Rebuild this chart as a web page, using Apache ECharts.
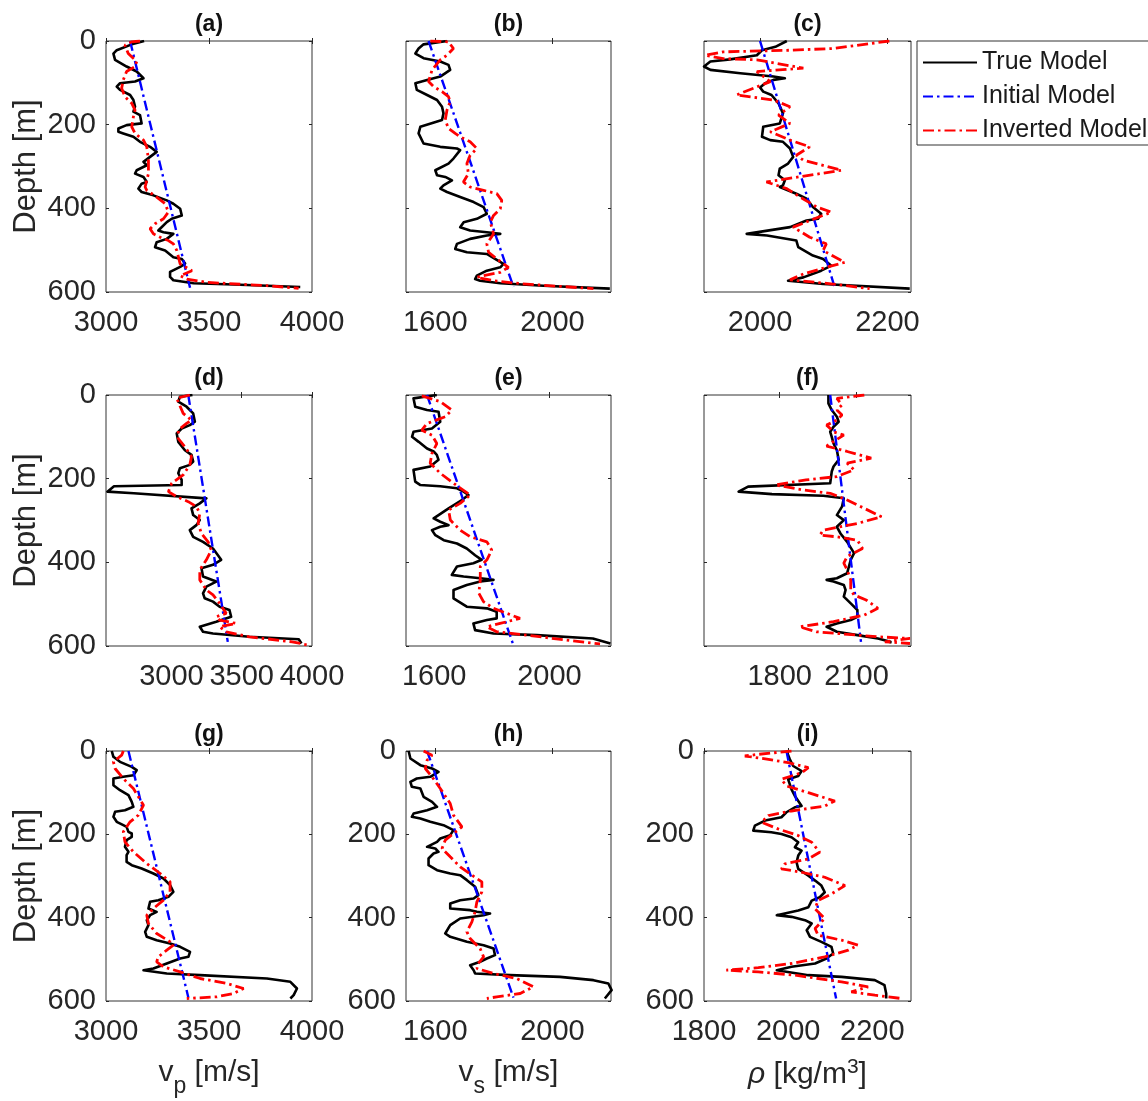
<!DOCTYPE html>
<html><head><meta charset="utf-8">
<script src="https://cdn.jsdelivr.net/npm/echarts@6/dist/echarts.min.js"></script>
<style>html,body{margin:0;padding:0;background:#fff}#c{width:1148px;height:1101px}</style>
</head><body><div id="c"></div>
<script>
const FONT = "'Liberation Sans', Arial, Helvetica, sans-serif";
const seriesNames = ['True Model', 'Initial Model', 'Inverted Model'];
const panelTitles = ['(a)', '(b)', '(c)', '(d)', '(e)', '(f)', '(g)', '(h)', '(i)'];
const depthTicks = [0, 200, 400, 600];
const depthRange = [0, 600];
const xRanges = [[3000, 4000], [1500, 2200], [1912, 2237], [2535, 4000], [1502, 2214], [1505, 2312], [3000, 4000], [1500, 2200], [1800, 2292]];
const xTicks = [[3000, 3500, 4000], [1600, 2000], [2000, 2200], [3000, 3500, 4000], [1600, 2000], [1800, 2100], [3000, 3500, 4000], [1600, 2000], [1800, 2000, 2200]];

// [value, depth]
const trueA = [[3185,0],[3125,8],[3052,22],[3036,30],[3044,45],[3100,61],[3149,73],[3182,89],[3141,97],[3068,101],[3052,109],[3068,117],[3117,129],[3133,141],[3141,157],[3133,169],[3165,177],[3173,197],[3100,201],[3060,209],[3060,217],[3084,221],[3133,229],[3165,241],[3214,253],[3246,265],[3214,277],[3182,289],[3198,297],[3149,309],[3141,317],[3182,325],[3198,337],[3173,341],[3157,353],[3173,361],[3230,369],[3295,381],[3327,389],[3360,401],[3368,417],[3319,425],[3295,433],[3254,453],[3279,457],[3327,461],[3295,473],[3246,481],[3238,493],[3287,501],[3327,517],[3368,521],[3384,532],[3360,540],[3311,552],[3311,564],[3327,572],[3425,579],[3619,582],[3943,588]];
const invA = [[3165,0],[3125,2],[3092,10],[3108,30],[3149,49],[3141,61],[3100,73],[3084,93],[3076,113],[3092,133],[3125,149],[3141,165],[3133,181],[3125,205],[3141,221],[3182,237],[3198,253],[3206,285],[3206,317],[3190,349],[3198,357],[3246,373],[3287,389],[3303,409],[3279,425],[3238,437],[3214,449],[3230,461],[3263,469],[3303,477],[3327,485],[3344,501],[3360,533],[3417,549],[3360,561],[3392,569],[3490,577],[3781,585],[3935,591]];
const initA = [[3117,0],[3408,590]];

const trueB = [[1640,0],[1560,8],[1543,18],[1532,30],[1560,41],[1617,49],[1645,57],[1651,69],[1617,85],[1572,93],[1532,101],[1537,117],[1572,129],[1606,141],[1623,157],[1628,173],[1623,189],[1549,205],[1543,221],[1560,245],[1617,253],[1674,257],[1685,261],[1662,281],[1645,293],[1600,309],[1606,321],[1634,325],[1657,333],[1628,345],[1617,353],[1640,361],[1685,373],[1731,385],[1765,397],[1776,413],[1742,425],[1697,433],[1685,445],[1719,453],[1776,457],[1822,461],[1776,465],[1719,473],[1674,485],[1668,497],[1708,505],[1776,509],[1804,521],[1833,533],[1822,541],[1776,549],[1742,561],[1736,569],[1753,573],[1822,579],[1969,585],[2196,592]];
const invB = [[1583,0],[1645,2],[1662,18],[1640,34],[1617,45],[1589,69],[1577,97],[1594,109],[1623,121],[1645,133],[1651,145],[1640,165],[1634,189],[1645,209],[1668,221],[1685,229],[1719,241],[1742,257],[1719,273],[1708,293],[1713,317],[1696,337],[1719,349],[1765,357],[1810,365],[1827,381],[1822,401],[1799,417],[1788,433],[1799,461],[1776,485],[1782,505],[1810,521],[1850,541],[1822,553],[1765,561],[1742,565],[1799,573],[1890,580],[2140,592]];
const initB = [[1577,0],[1867,588]];

const trueC = [[2042,0],[2024,14],[2003,22],[1995,34],[1953,44],[1922,49],[1912,61],[1922,69],[1969,77],[2021,85],[2039,89],[2021,93],[2008,101],[2000,111],[2005,121],[2018,129],[2029,149],[2036,173],[2031,197],[2005,205],[2003,229],[2016,237],[2036,241],[2047,257],[2052,277],[2044,293],[2031,305],[2029,321],[2039,333],[2036,345],[2031,349],[2057,365],[2073,377],[2083,397],[2096,413],[2091,425],[2073,429],[2047,445],[1979,461],[2011,465],[2057,477],[2060,493],[2083,513],[2099,521],[2112,537],[2096,549],[2068,565],[2044,573],[2099,581],[2235,592]];
const invC = [[2203,0],[2115,18],[2047,22],[1942,26],[1914,34],[1942,42],[1995,45],[2068,65],[1995,73],[2016,97],[1963,129],[2021,141],[2047,157],[2029,177],[2047,197],[2016,217],[2047,237],[2078,253],[2057,273],[2068,285],[2128,309],[2010,337],[2042,353],[2063,373],[2089,397],[2112,409],[2052,445],[2078,469],[2104,485],[2099,501],[2133,529],[2104,541],[2068,557],[2047,571],[2115,581],[2172,592]];
const initC = [[2000,0],[2117,588]];

const trueD = [[3150,0],[3061,4],[3049,16],[3108,28],[3155,44],[3167,64],[3131,72],[3073,80],[3038,92],[3049,112],[3096,132],[3143,143],[3155,159],[3131,167],[3061,175],[3049,187],[3073,203],[3073,215],[2592,218],[2545,231],[2733,235],[3249,247],[3202,259],[3143,271],[3155,287],[3202,299],[3178,311],[3131,323],[3155,339],[3225,351],[3296,367],[3331,383],[3354,394],[3296,406],[3214,414],[3225,434],[3319,446],[3249,458],[3225,474],[3237,486],[3296,494],[3343,506],[3413,514],[3425,530],[3319,542],[3202,554],[3225,566],[3296,570],[3554,578],[3906,584],[3925,594]];
const invD = [[3131,0],[3038,8],[3084,44],[3143,60],[3108,68],[3049,84],[3049,104],[3096,124],[3143,147],[3131,167],[3084,191],[3002,211],[2979,231],[3038,243],[3120,255],[3178,267],[3202,283],[3190,307],[3214,331],[3261,351],[3284,371],[3249,394],[3202,418],[3202,442],[3249,466],[3296,478],[3343,498],[3390,522],[3319,530],[3343,538],[3460,546],[3343,554],[3390,566],[3554,578],[3859,590],[3976,598]];
const initD = [[3120,0],[3401,590]];

const trueE = [[1609,0],[1528,8],[1534,28],[1575,36],[1615,40],[1621,64],[1592,80],[1528,88],[1523,100],[1546,112],[1575,128],[1598,135],[1609,143],[1615,155],[1586,171],[1528,179],[1534,207],[1551,215],[1621,218],[1679,223],[1702,231],[1719,239],[1696,251],[1650,271],[1615,287],[1598,295],[1621,303],[1650,311],[1621,315],[1592,323],[1604,335],[1633,347],[1679,355],[1713,367],[1742,383],[1765,394],[1736,402],[1679,410],[1661,430],[1702,434],[1760,438],[1806,442],[1760,446],[1713,454],[1667,466],[1667,486],[1713,506],[1783,510],[1817,518],[1817,534],[1783,538],[1736,546],[1742,562],[1806,570],[1956,574],[2151,582],[2212,594]];
const invE = [[1557,2],[1621,16],[1661,36],[1638,52],[1575,68],[1557,84],[1592,96],[1609,116],[1592,140],[1586,163],[1621,187],[1667,211],[1725,239],[1690,259],[1650,275],[1656,299],[1690,323],[1725,339],[1783,351],[1800,371],[1783,394],[1760,410],[1760,442],[1755,474],[1771,494],[1806,510],[1898,534],[1829,546],[1783,554],[1817,566],[1922,574],[2060,586],[2176,595]];
const initE = [[1575,0],[1873,594]];

const trueF = [[1990,0],[1990,20],[2003,36],[2023,52],[2030,64],[2010,76],[1997,88],[2003,100],[2010,116],[2023,132],[2030,155],[2010,171],[2003,183],[1997,211],[1677,219],[1640,231],[1770,237],[1970,241],[2050,247],[2043,267],[2023,287],[2050,299],[2023,315],[2037,331],[2063,351],[2090,378],[2077,394],[2070,410],[2063,426],[2023,438],[1983,442],[2010,446],[2050,454],[2057,466],[2050,482],[2077,498],[2103,514],[2103,530],[2077,538],[2023,546],[1983,554],[2023,566],[2103,574],[2183,582],[2232,590],[2230,594]];
const invF = [[2130,0],[2023,8],[2043,24],[2023,36],[2043,48],[2023,60],[1983,72],[2010,88],[2050,96],[1997,116],[1983,122],[2063,135],[2157,151],[2063,163],[2090,179],[2023,195],[1903,203],[1783,215],[1890,227],[1997,235],[2063,251],[2130,271],[2197,291],[2103,307],[1970,323],[1957,335],[2023,339],[2103,347],[2123,367],[2063,386],[2050,402],[2063,418],[2077,442],[2077,466],[2090,478],[2137,490],[2183,510],[2130,526],[2010,542],[1877,554],[1943,566],[2183,578],[2308,582],[2210,590],[2308,594]];
const initF = [[1997,0],[2117,590]];

const trueG = [[3028,0],[3036,14],[3068,26],[3125,38],[3149,46],[3133,58],[3084,62],[3036,66],[3036,82],[3068,94],[3109,106],[3125,122],[3133,134],[3092,142],[3044,146],[3036,158],[3052,170],[3084,178],[3100,182],[3109,194],[3125,198],[3125,206],[3100,214],[3092,230],[3109,242],[3100,250],[3100,266],[3125,274],[3173,282],[3230,294],[3279,306],[3311,322],[3327,338],[3303,350],[3254,358],[3214,362],[3206,378],[3246,386],[3214,394],[3198,406],[3206,418],[3190,434],[3198,446],[3246,454],[3311,462],[3360,470],[3408,482],[3400,494],[3360,498],[3295,510],[3230,522],[3182,526],[3295,534],[3457,538],[3781,546],[3895,554],[3927,570],[3911,586],[3895,594]];
const invG = [[3084,0],[3076,10],[3036,26],[3044,42],[3084,66],[3133,90],[3182,130],[3157,154],[3117,170],[3084,194],[3092,218],[3133,242],[3198,270],[3263,294],[3311,314],[3311,338],[3279,358],[3230,378],[3198,394],[3206,414],[3246,438],[3311,458],[3327,466],[3295,478],[3254,494],[3246,506],[3279,518],[3360,530],[3457,546],[3587,558],[3668,570],[3619,582],[3538,590],[3392,594]];
const initG = [[3109,0],[3400,592]];

const trueH = [[1509,0],[1515,18],[1549,34],[1589,42],[1611,50],[1583,62],[1537,66],[1515,74],[1520,86],[1549,90],[1560,110],[1589,122],[1606,134],[1572,142],[1526,150],[1520,158],[1549,162],[1583,170],[1628,178],[1662,190],[1651,202],[1617,210],[1606,218],[1572,230],[1600,234],[1611,242],[1594,246],[1577,258],[1577,274],[1606,286],[1651,294],[1685,298],[1708,310],[1736,326],[1747,346],[1731,354],[1685,358],[1651,366],[1651,378],[1719,382],[1742,386],[1787,390],[1765,394],[1685,402],[1651,418],[1634,438],[1651,446],[1708,458],[1765,466],[1799,474],[1804,490],[1776,498],[1753,506],[1719,514],[1731,526],[1736,534],[1855,538],[2026,542],[2140,550],[2191,558],[2202,574],[2179,594]];
const invH = [[1560,0],[1589,10],[1572,22],[1566,42],[1589,62],[1617,90],[1651,126],[1662,154],[1691,182],[1662,198],[1634,214],[1623,234],[1651,254],[1685,278],[1725,298],[1759,314],[1759,338],[1742,362],[1736,386],[1725,410],[1708,434],[1719,450],[1753,474],[1765,494],[1747,510],[1742,522],[1799,534],[1878,546],[1935,566],[1890,582],[1810,590],[1776,594]];
const initH = [[1572,0],[1867,592]];

const trueI = [[1996,0],[2004,20],[2012,36],[2032,48],[2024,60],[2000,68],[1996,72],[2008,92],[2016,108],[2032,132],[2016,135],[1996,147],[1984,159],[1945,167],[1921,179],[1917,191],[1960,195],[1984,199],[2008,207],[2024,219],[2016,231],[2032,239],[2024,251],[2020,267],[2024,283],[2048,299],[2064,311],[2079,323],[2087,339],[2075,351],[2056,359],[2048,375],[2024,383],[1973,394],[2008,398],[2040,406],[2056,414],[2044,430],[2052,446],[2079,458],[2103,470],[2107,486],[2091,498],[2064,510],[2008,518],[1973,526],[2048,538],[2127,542],[2206,550],[2229,562],[2233,582],[2233,594]];
const invI = [[2008,0],[1929,8],[1897,12],[1953,20],[2000,28],[2048,40],[2032,52],[1984,68],[1996,84],[2048,100],[2111,120],[2087,132],[2008,144],[1953,155],[1937,171],[1976,187],[2024,203],[2056,219],[2075,243],[2048,259],[1992,271],[1984,283],[2032,291],[2087,303],[2135,323],[2103,343],[2071,359],[2064,379],[2087,402],[2064,426],[2071,442],[2127,454],[2166,466],[2143,478],[2087,494],[2008,510],[1929,520],[1853,526],[1929,530],[2016,538],[2127,554],[2190,566],[2150,578],[2206,586],[2269,594]];
const initI = [[1996,0],[2114,594]];

const trueModels = [trueA, trueB, trueC, trueD, trueE, trueF, trueG, trueH, trueI];
const initialModels = [initA, initB, initC, initD, initE, initF, initG, initH, initI];
const invertedModels = [invA, invB, invC, invD, invE, invF, invG, invH, invI];

// ---- layout / style ----
const colLeft = [106, 406, 704], colWidth = [206, 205, 207];
const rowTop = [41, 395, 751], rowHeight = [251, 251, 250];
const titleY = [25, 379, 735];
const AX = '#262626';

const grids = [], xAxes = [], yAxes = [], series = [], graphics = [];
const xNames = [
  {text: '{t|v}{s|p}{t| [m/s]}', gap: 50},
  {text: '{t|v}{s|s}{t| [m/s]}', gap: 50},
  {text: '{r|\u03c1}{t| [kg/m}{u|3}{t|]}', gap: 54}
];
const rich = {
  t: {fontSize: 30, color: AX, fontFamily: FONT, lineHeight: 40},
  r: {fontSize: 30, color: AX, fontFamily: FONT, fontStyle: 'italic', lineHeight: 40},
  s: {fontSize: 23, color: AX, fontFamily: FONT, lineHeight: 23, padding: [28, 0, 0, 0]},
  u: {fontSize: 21, color: AX, fontFamily: FONT, lineHeight: 21, padding: [0, 0, 16, 0]}
};
const plainNum = v => String(v);

for (let i = 0; i < 9; i++) {
  const r = Math.floor(i / 3), c = i % 3;
  grids.push({left: colLeft[c], top: rowTop[r], width: colWidth[c], height: rowHeight[r],
    show: true, borderColor: '#333333', borderWidth: 1, backgroundColor: 'transparent', containLabel: false});
  const tickCfg = {show: true, inside: true, length: 3, customValues: xTicks[i], lineStyle: {color: AX, width: 1}};
  const xa = {type: 'value', gridIndex: i, position: 'bottom', min: xRanges[i][0], max: xRanges[i][1],
    axisLine: {show: false}, splitLine: {show: false}, axisTick: tickCfg,
    axisLabel: {show: true, customValues: xTicks[i], formatter: plainNum, fontSize: 29, color: AX, fontFamily: FONT, margin: 16}};
  if (r === 2) {
    xa.name = xNames[c].text;
    xa.nameLocation = 'middle';
    xa.nameGap = xNames[c].gap;
    xa.nameTextStyle = {rich: rich};
  }
  xAxes.push(xa);
  xAxes.push({type: 'value', gridIndex: i, position: 'top', min: xRanges[i][0], max: xRanges[i][1],
    axisLine: {show: false}, splitLine: {show: false}, axisTick: tickCfg, axisLabel: {show: false}});
  const showY = (c === 0 || r === 2);
  const yTick = {show: true, inside: true, length: 3, customValues: depthTicks, lineStyle: {color: AX, width: 1}};
  const ya = {type: 'value', gridIndex: i, position: 'left', inverse: true, min: depthRange[0], max: depthRange[1],
    axisLine: {show: false}, splitLine: {show: false}, axisTick: yTick,
    axisLabel: {show: showY, customValues: depthTicks, formatter: plainNum, fontSize: 29, color: AX, fontFamily: FONT, margin: 10}};
  if (c === 0) {
    ya.name = 'Depth [m]';
    ya.nameLocation = 'middle';
    ya.nameRotate = 90;
    ya.nameGap = 64;
    ya.nameTextStyle = {fontSize: 31, color: AX, fontFamily: FONT};
  }
  yAxes.push(ya);
  yAxes.push({type: 'value', gridIndex: i, position: 'right', inverse: true, min: depthRange[0], max: depthRange[1],
    axisLine: {show: false}, splitLine: {show: false}, axisTick: yTick, axisLabel: {show: false}});

  const base = {type: 'line', xAxisIndex: 2 * i, yAxisIndex: 2 * i, symbol: 'none', showSymbol: false,
    animation: false, silent: true, clip: true};
  series.push(Object.assign({}, base, {name: seriesNames[0], data: trueModels[i], z: 2,
    lineStyle: {color: '#000000', width: 2.6, type: 'solid', join: 'round'}, itemStyle: {color: '#000000'}}));
  series.push(Object.assign({}, base, {name: seriesNames[1], data: initialModels[i], z: 3,
    lineStyle: {color: '#0000ff', width: 2.4, type: [10, 4, 2.5, 4]}, itemStyle: {color: '#0000ff'}}));
  series.push(Object.assign({}, base, {name: seriesNames[2], data: invertedModels[i], z: 4,
    lineStyle: {color: '#ff0000', width: 2.8, type: [11, 4, 2.5, 4]}, itemStyle: {color: '#ff0000'}}));

  graphics.push({type: 'text', x: colLeft[c] + colWidth[c] / 2, y: titleY[r],
    style: {text: panelTitles[i], align: 'center', verticalAlign: 'middle', fill: '#111',
      font: 'bold 23px ' + FONT}});
}

const chart = echarts.init(document.getElementById('c'), null, {renderer: 'canvas'});
chart.setOption({
  animation: false,
  backgroundColor: '#ffffff',
  grid: grids, xAxis: xAxes, yAxis: yAxes, series: series,
  graphic: graphics,
  legend: {
    data: seriesNames, orient: 'vertical', left: 917, top: 41,
    padding: [9, 8, 2, 5], itemWidth: 54, itemHeight: 26, itemGap: 9,
    borderColor: '#333333', borderWidth: 1, backgroundColor: '#ffffff',
    itemStyle: {color: 'rgba(0,0,0,0)', borderColor: 'rgba(0,0,0,0)', borderWidth: 0, opacity: 0},
    textStyle: {fontSize: 25, color: '#1a1a1a', fontFamily: FONT},
    selectedMode: false
  }
});
</script></body></html>
